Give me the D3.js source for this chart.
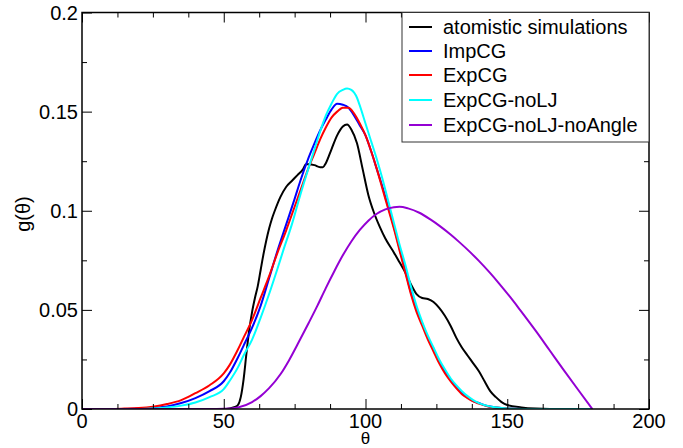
<!DOCTYPE html>
<html><head><meta charset="utf-8">
<script src="https://cdn.jsdelivr.net/npm/d3@7"></script>
<style>
body{margin:0;background:#fff}
text{font-family:"Liberation Sans",Arial,sans-serif}
</style></head>
<body><svg id="c" width="683" height="448"></svg>
<script>
// ---- data ----
const seriesNames = ["atomistic simulations","ImpCG","ExpCG","ExpCG-noLJ","ExpCG-noLJ-noAngle"];
const seriesColors = ["#000000","#0000ff","#ff0000","#00ffff","#9400d3"];
const atomTheta = [0,50,52,54,55,56,57,58,59,60,61,62,63,64,65,66,67,68,70,72,74,76,78,79,80,82,84,85,86,88,90,92,93.5,95,97,99,101,103,105,107,110,112,114,116,118,120,122,124,126,128,130,132,134,136,138,140,142,144,146,148,150,155,160,165,180];
const atomG = [0,0,0.0003,0.001,0.002,0.006,0.015,0.028,0.040,0.049,0.056,0.062,0.070,0.078,0.085,0.091,0.096,0.100,0.107,0.112,0.115,0.118,0.121,0.1235,0.1235,0.123,0.122,0.122,0.124,0.131,0.138,0.1425,0.1435,0.141,0.134,0.121,0.108,0.099,0.092,0.086,0.079,0.074,0.069,0.063,0.058,0.056,0.0555,0.054,0.051,0.047,0.042,0.036,0.031,0.027,0.023,0.019,0.014,0.009,0.006,0.0035,0.002,0.0008,0.0002,0,0];
const impTheta = [0,15,20,25,30,35,40,45,50,52,55,57,60,63,66,69,72,75,77,80,82,84,86,88,90,92,94,96,98,100,102,104,106,108,110,112,114,116,118,120,122,124,126,128,130,132,134,136,138,140,143,146,150,160,180];
const impG = [0,0,0.0002,0.0006,0.0013,0.003,0.0055,0.009,0.014,0.018,0.026,0.032,0.041,0.052,0.066,0.080,0.093,0.106,0.115,0.127,0.134,0.1405,0.146,0.151,0.154,0.1535,0.152,0.148,0.143,0.138,0.130,0.121,0.112,0.102,0.092,0.081,0.070,0.059,0.050,0.043,0.036,0.030,0.024,0.019,0.0145,0.011,0.008,0.006,0.004,0.003,0.0015,0.0008,0.0003,0,0];
const expTheta = [0,10,15,20,25,30,35,40,45,50,52,55,57,60,63,66,69,72,75,77,80,82,84,86,88,90,92,94,96,98,100,102,104,106,108,110,112,114,116,118,120,122,124,126,128,130,132,134,136,138,140,143,146,150,160,180];
const expG = [0,0,0.0002,0.0005,0.0012,0.0025,0.0045,0.008,0.012,0.018,0.022,0.030,0.036,0.045,0.056,0.067,0.079,0.090,0.102,0.110,0.122,0.129,0.136,0.142,0.147,0.150,0.152,0.152,0.149,0.144,0.138,0.130,0.121,0.111,0.101,0.091,0.080,0.069,0.058,0.049,0.042,0.035,0.029,0.023,0.018,0.014,0.0105,0.0075,0.0055,0.0038,0.0027,0.0014,0.0007,0.0003,0,0];
const nolTheta = [0,20,25,30,35,40,45,50,52,55,57,60,63,66,69,71,74,77,80,82,84,86,88,90,92,93.5,95,97,98,100,102,104,106,108,110,112,114,116,118,120,122,124,126,128,130,132,134,136,138,140,145,150,160,180];
const nolG = [0,0,0.0003,0.0008,0.0017,0.0033,0.006,0.010,0.014,0.021,0.027,0.035,0.046,0.058,0.071,0.080,0.093,0.108,0.122,0.131,0.140,0.148,0.154,0.159,0.161,0.1617,0.161,0.157,0.153,0.144,0.135,0.126,0.116,0.105,0.094,0.083,0.073,0.062,0.052,0.044,0.037,0.031,0.025,0.020,0.0155,0.012,0.009,0.0065,0.0045,0.003,0.001,0.0003,0,0];
const noaTheta = [0,45,50,55,60,63,66,70,73,76,80,83,86,89,92,95,98,101,104,107,110,112,115,119,123,126,130,133,137,140,144,147,151,154.5,160,165,170,175,180];
const noaG = [0,0,0.0001,0.0008,0.0035,0.0065,0.0105,0.0175,0.0245,0.0325,0.0435,0.052,0.061,0.0695,0.0775,0.0845,0.0903,0.0950,0.0985,0.1007,0.1018,0.1020,0.1012,0.0990,0.0955,0.0925,0.0880,0.0843,0.0790,0.0747,0.0685,0.0635,0.0565,0.0500,0.0395,0.0295,0.0195,0.0097,0];
const xMajor = [0,50,100,150,200];
const yMajor = [0,0.05,0.1,0.15,0.2];
const xLabels = ["0","50","100","150","200"];
const yLabels = ["0","0.05","0.1","0.15","0.2"];

// ---- layout ----
const svg = d3.select("#c");
const L=82, R=649, T=12.5, B=409;
const x = d3.scaleLinear().domain([0,200]).range([L,R]);
const y = d3.scaleLinear().domain([0,0.2]).range([B,T]);

const allSeries = [
  [atomTheta, atomG],[impTheta, impG],[expTheta, expG],[nolTheta, nolG],[noaTheta, noaG]
];
const line = d3.line().x(d=>x(d[0])).y(d=>y(d[1])).curve(d3.curveMonotoneX);
svg.append("clipPath").attr("id","pc").append("rect").attr("x",L).attr("y",T).attr("width",R-L).attr("height",B-T);
const g = svg.append("g").attr("clip-path","url(#pc)");
allSeries.forEach((s,i)=>{
  const pts = s[0].map((t,j)=>[t,s[1][j]]);
  g.append("path").attr("d",line(pts)).attr("fill","none")
   .attr("stroke",seriesColors[i]).attr("stroke-width",2).attr("stroke-linejoin","round");
});

// axes (inward ticks)
const xMinor = d3.range(0,200.01,12.5).filter(v=>!xMajor.includes(v));
const yMinor = d3.range(0,0.2001,0.025).filter(v=>!yMajor.some(m=>Math.abs(m-v)<1e-9));
function styleAx(sel){ sel.select(".domain").remove(); sel.selectAll("line").attr("stroke","#000").attr("stroke-width",1); sel.selectAll("text").remove(); }
svg.append("g").attr("transform",`translate(0,${B})`).call(d3.axisBottom(x).tickValues(xMajor).tickSize(-10)).call(styleAx);
svg.append("g").attr("transform",`translate(0,${B})`).call(d3.axisBottom(x).tickValues(xMinor).tickSize(-5)).call(styleAx);
svg.append("g").attr("transform",`translate(0,${T})`).call(d3.axisTop(x).tickValues(xMajor).tickSize(-10)).call(styleAx);
svg.append("g").attr("transform",`translate(0,${T})`).call(d3.axisTop(x).tickValues(xMinor).tickSize(-5)).call(styleAx);
svg.append("g").attr("transform",`translate(${L},0)`).call(d3.axisLeft(y).tickValues(yMajor).tickSize(-10)).call(styleAx);
svg.append("g").attr("transform",`translate(${L},0)`).call(d3.axisLeft(y).tickValues(yMinor).tickSize(-5)).call(styleAx);
svg.append("g").attr("transform",`translate(${R},0)`).call(d3.axisRight(y).tickValues(yMajor).tickSize(-10)).call(styleAx);
svg.append("g").attr("transform",`translate(${R},0)`).call(d3.axisRight(y).tickValues(yMinor).tickSize(-5)).call(styleAx);

svg.append("rect").attr("x",L).attr("y",T).attr("width",R-L).attr("height",B-T)
  .attr("fill","none").attr("stroke","#000").attr("stroke-width",1.5);

// tick labels
svg.append("g").selectAll("text").data(xMajor).join("text")
  .attr("x",d=>x(d)).attr("y",B+19).attr("text-anchor","middle").attr("font-size",20).text((d,i)=>xLabels[i]);
svg.append("g").selectAll("text").data(yMajor).join("text")
  .attr("x",L-4).attr("y",d=>y(d)+7).attr("text-anchor","end").attr("font-size",20).text((d,i)=>yLabels[i]);

// axis titles
svg.append("text").attr("x",(L+R)/2).attr("y",444).attr("text-anchor","middle").attr("font-size",17).text("θ");
svg.append("text").attr("transform","translate(30,214) rotate(-90)").attr("text-anchor","middle").attr("font-size",20).text("g(θ)");

// legend
const lg = svg.append("g");
lg.append("rect").attr("x",402).attr("y",T).attr("width",R-402).attr("height",142-T)
  .attr("fill","#fff").attr("stroke","#333").attr("stroke-width",1);
const rowY = [27,51,75,100,125];
seriesNames.forEach((n,i)=>{
  lg.append("line").attr("x1",409).attr("x2",432).attr("y1",rowY[i]).attr("y2",rowY[i])
    .attr("stroke",seriesColors[i]).attr("stroke-width",2);
  lg.append("text").attr("x",443).attr("y",rowY[i]+7).attr("font-size",20).text(n);
});
</script></body></html>
